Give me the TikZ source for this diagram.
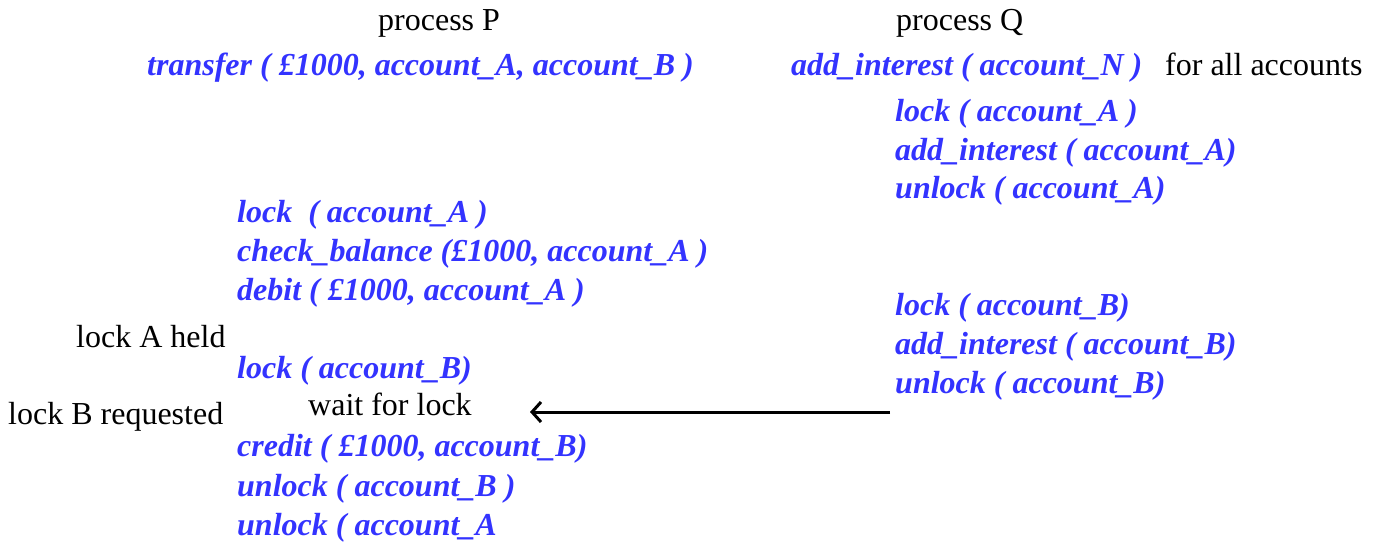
\documentclass[tikz,border=0pt]{standalone}
\usepackage{fontspec}
\setmainfont{Liberation Serif}[BoldItalicFont={Liberation Serif Bold Italic}]
\usetikzlibrary{arrows.meta}
\definecolor{codeblue}{RGB}{51,51,255}
\tikzset{
  code/.style={anchor=base west, inner sep=0pt, text=codeblue, font=\fontsize{32}{38}\selectfont\bfseries\itshape},
  plain/.style={anchor=base west, inner sep=0pt, text=black, font=\fontsize{32}{38}\selectfont},
}
\begin{document}
\begin{tikzpicture}[x=1pt,y=-1pt]
\useasboundingbox (0,0) rectangle (1378,544);
\node[plain] (pP) at (378,30) {process P};
\node[plain] (pQ) at (896,30) {process Q};
\node[code] (tr) at (147,75) {transfer ( £1000, account\_A, account\_B )};
\node[code] (ai) at (791,75) {add\_interest ( account\_N )};
\node[plain] (fa) at (1165,75) {for all accounts};
\node[code] (q1) at (895,121) {lock ( account\_A )};
\node[code] (q2) at (895,160) {add\_interest ( account\_A)};
\node[code] (q3) at (895,198) {unlock ( account\_A)};
\node[code] (p1) at (237,222) {lock\ \ ( account\_A )};
\node[code] (p2) at (237,261) {check\_balance (£1000, account\_A )};
\node[code] (p3) at (237,300) {debit ( £1000, account\_A )};
\node[code] (q4) at (895,315) {lock ( account\_B)};
\node[code] (q5) at (895,354) {add\_interest ( account\_B)};
\node[code] (q6) at (895,393) {unlock ( account\_B)};
\node[plain] (la) at (76,347) {lock A held};
\node[code] (p4) at (237,378) {lock ( account\_B)};
\node[plain] (lb) at (8,424) {lock B requested};
\node[plain] (wl) at (308,415) {wait for lock};
\node[code] (p5) at (237,456) {credit ( £1000, account\_B)};
\node[code] (p6) at (237,496) {unlock ( account\_B )};
\node[code] (p7) at (237,535) {unlock ( account\_A};
\coordinate (as) at (890,412);
\coordinate (ae) at (530,412);
\draw[line width=3pt, -{Straight Barb[length=9pt,width=20pt]}] (as) -- (ae);
\end{tikzpicture}
\end{document}
